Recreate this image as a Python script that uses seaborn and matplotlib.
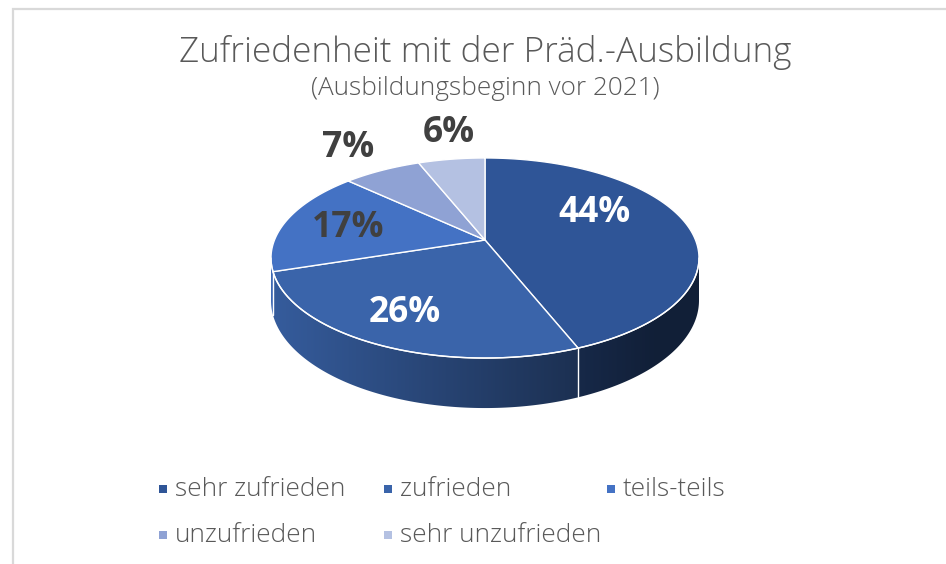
import numpy as np
import matplotlib
matplotlib.use("Agg")
import matplotlib.pyplot as plt
from matplotlib.patches import Polygon, Rectangle
from matplotlib.colors import to_rgb
import seaborn as sns

# ---- data ----
categories = ["sehr zufrieden", "zufrieden", "teils-teils", "unzufrieden", "sehr unzufrieden"]
shares = [44, 26, 17, 7, 6]
slice_colors = ["#2F5597", "#3A64AA", "#4472C4", "#8FA2D4", "#B4C1E2"]
label_colors = ["white", "white", "#404040", "#404040", "#404040"]
title = "Zufriedenheit mit der Präd.-Ausbildung"
subtitle = "(Ausbildungsbeginn vor 2021)"

sns.set_theme(style="white")
plt.rcParams["font.family"] = ["Open Sans", "DejaVu Sans"]

W, H = 946, 564
fig = plt.figure(figsize=(W / 100, H / 100), dpi=100)
ax = fig.add_axes([0, 0, 1, 1])
ax.set_xlim(0, W)
ax.set_ylim(H, 0)
ax.axis("off")

# ---- perspective disc geometry (pixel space) ----
CX, CY = 485.0, 240.0      # projected disc centre
RX, RY = 210.5, 96.8       # half axes of the top face
K = 0.18                   # perspective foreshortening
DEPTH = 41.0               # thickness of the disc


def project(t, drop=0.0):
    x, y = np.cos(t), np.sin(t)
    d = 1 + K * y
    return CX + RX * x / d, CY + (-RY * y + drop) / d


def wall_shade(u):
    """Brightness factor of the rim, darker towards the right."""
    return np.maximum(0.37, 0.92 - 0.44 * (u - 272.0) / 306.0)


fractions = np.asarray(shares, dtype=float) / np.sum(shares)
cum = np.concatenate([[0.0], np.cumsum(fractions)])
t_start = np.deg2rad(90 - 360 * cum[:-1])
t_end = np.deg2rad(90 - 360 * cum[1:])

t_sil = np.arcsin(-K)
vis_lo, vis_hi = -np.pi - t_sil, t_sil   # visible part of the rim

# ---- side walls with a horizontal gradient ----
for i in range(len(shares)):
    lo = max(t_end[i], vis_lo)
    hi = min(t_start[i], vis_hi)
    if hi <= lo:
        continue
    ts = np.linspace(lo, hi, 200)
    xt, yt = project(ts)
    xb, yb = project(ts[::-1], DEPTH)
    outline = np.column_stack([np.r_[xt, xb], np.r_[yt, yb]])
    wall = Polygon(outline, closed=True, facecolor="none", edgecolor="none")
    ax.add_patch(wall)
    x0, x1 = outline[:, 0].min() - 1, outline[:, 0].max() + 1
    y0, y1 = outline[:, 1].min() - 1, outline[:, 1].max() + 1
    us = np.linspace(x0, x1, 300)
    base = np.array(to_rgb(slice_colors[i]))
    grad = np.clip(base[None, :] * wall_shade(us)[:, None], 0, 1)
    img = ax.imshow(grad[None, :, :], extent=(x0, x1, y1, y0), aspect="auto",
                    interpolation="bilinear", zorder=1)
    img.set_clip_path(wall)

ax.set_xlim(0, W)
ax.set_ylim(H, 0)

# boundaries between wall segments
for tb in t_start:
    tb_w = (tb + np.pi) % (2 * np.pi) - np.pi
    if vis_lo < tb_w < vis_hi:
        xa, ya = project(tb_w)
        xb_, yb_ = project(tb_w, DEPTH)
        ax.plot([xa, xb_], [ya, yb_], color="white", lw=1.0, zorder=2)

# ---- top face wedges ----
for i in range(len(shares)):
    ts = np.linspace(t_start[i], t_end[i], 200)
    xs, ys = project(ts)
    pts = np.column_stack([np.r_[CX, xs], np.r_[CY, ys]])
    ax.add_patch(Polygon(pts, closed=True, facecolor=slice_colors[i],
                         edgecolor="white", lw=1.0, zorder=3))

# front rim highlight
ts = np.linspace(vis_lo, vis_hi, 300)
xs, ys = project(ts)
ax.plot(xs, ys, color="white", lw=1.0, zorder=4)

# ---- value labels ----
label_r = [0.62, 0.74, 0.68, 1.39, 1.40]
label_dt = [17.5, -1.6, 1.6, 0.2, -2.0]
for i in range(len(shares)):
    tm = 0.5 * (t_start[i] + t_end[i]) + np.deg2rad(label_dt[i])
    r = label_r[i]
    x, y = r * np.cos(tm), r * np.sin(tm)
    d = 1 + K * y
    px, py = CX + RX * x / d, CY - RY * y / d
    ax.text(px, py, f"{shares[i]}%", color=label_colors[i], fontsize=25.5,
            fontweight="bold", ha="center", va="center", zorder=5)

# ---- titles ----
ax.text(485, 62, title, ha="center", va="baseline", fontsize=25.3,
        fontweight="light", color="#595959")
ax.text(485, 95, subtitle, ha="center", va="baseline", fontsize=18.8,
        fontweight="light", color="#595959")

# ---- legend ----
leg_x = [163, 388, 611, 163, 388]
leg_y = [489, 489, 489, 535, 535]
for i, name in enumerate(categories):
    ax.add_patch(Rectangle((leg_x[i] - 4, leg_y[i] - 4), 8, 8,
                           facecolor=slice_colors[i], edgecolor="none"))
    ax.text(leg_x[i] + 12, leg_y[i], name, ha="left", va="center",
            fontsize=18.8, fontweight="light", color="#595959")

# chart frame
ax.plot([13, 13, W], [H, 9, 9], color="#D9D9D9", lw=1.6, solid_joinstyle="miter")

fig.savefig("out.png", dpi=100)
